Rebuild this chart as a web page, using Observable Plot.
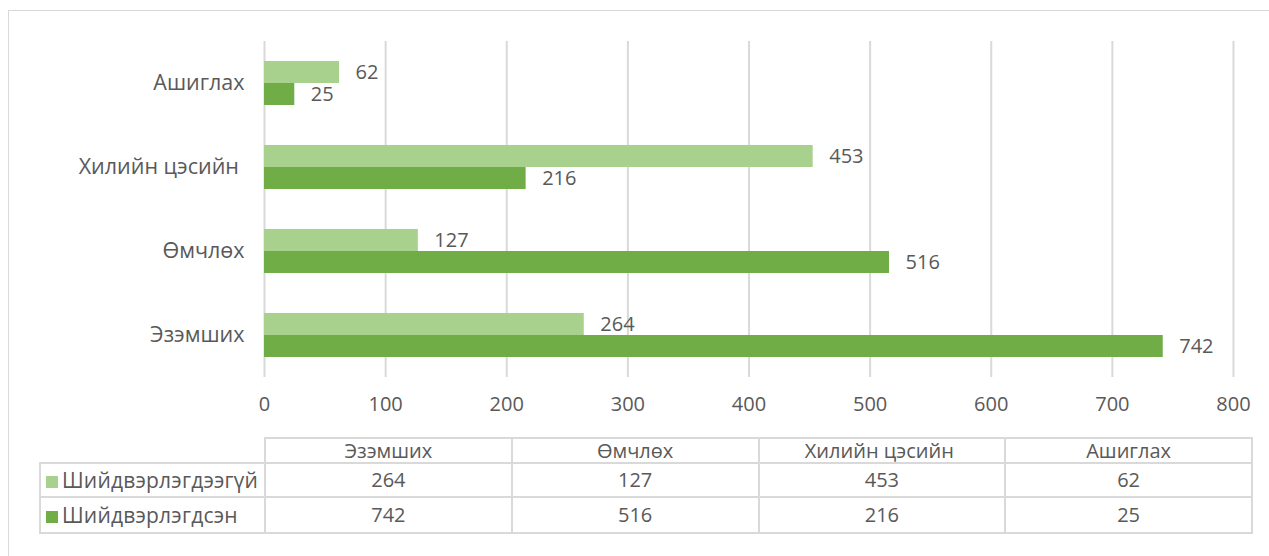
<!DOCTYPE html>
<html>
<head>
<meta charset="utf-8">
<script src="https://cdn.jsdelivr.net/npm/d3@7"></script>
<script src="https://cdn.jsdelivr.net/npm/@observablehq/plot@0.6"></script>
<style>
  html, body { margin: 0; padding: 0; background: #fff; }
  body { width: 1269px; height: 556px; position: relative; overflow: hidden; font-family: "Open Sans", sans-serif; color: #595959; }
  #frame { position: absolute; left: 8px; top: 10px; width: 1262px; height: 548px; border: 1px solid #d9d9d9; box-sizing: border-box; }
  #chart { position: absolute; left: 0; top: 0; }
  #chart svg text { white-space: pre; }
  #tbl { position: absolute; left: 39px; top: 437px; width: 1212px; table-layout: fixed; border-collapse: collapse; font-size: 20px; color: #595959; }
  #tbl td { border: 2px solid #d9d9d9; text-align: center; padding: 0; line-height: 1; white-space: pre; }
  #tbl td.empty { border: none; }
  #tbl td.leg { text-align: left; padding-left: 5px; white-space: nowrap; font-size: 21px; letter-spacing: 0.2px; }
  #tbl tr.hdr td { font-size: 20px; }
  .sw { display: inline-block; width: 12px; height: 12px; margin-right: 4px; vertical-align: 0px; }
</style>
</head>
<body>
<div id="frame"></div>
<div id="chart"></div>
<table id="tbl"></table>
<script>
// Categories, top to bottom in the chart
const categories = ["Ашиглах", "Хилийн цэсийн ", "Өмчлөх", "Эзэмших"];
// Series values per category (same order as categories)
const unresolved = [62, 453, 127, 264];   // Шийдвэрлэгдээгүй
const resolved = [25, 216, 516, 742];     // Шийдвэрлэгдсэн
const seriesNames = ["Шийдвэрлэгдээгүй", "Шийдвэрлэгдсэн"];
const seriesColors = ["#a9d18e", "#70ad47"];
const xTicks = [0, 100, 200, 300, 400, 500, 600, 700, 800];
// Table column order
const tableOrder = ["Эзэмших", "Өмчлөх", "Хилийн цэсийн ", "Ашиглах"];

const data = categories.map((c, i) => ({cat: c, u: unresolved[i], r: resolved[i]}));

const chart = Plot.plot({
  width: 1269,
  height: 420,
  marginLeft: 264,
  marginRight: 36,
  marginTop: 41,
  marginBottom: 43,
  style: {fontFamily: "Open Sans, sans-serif", fontSize: "20px", color: "#595959", background: "transparent"},
  x: {domain: [0, 800], ticks: xTicks, tickSize: 0, tickPadding: 19, label: null},
  y: {domain: categories, padding: 0, tickSize: 0, tickPadding: 20, label: null},
  marks: [
    Plot.ruleX(xTicks, {stroke: "#d9d9d9", strokeWidth: 2}),
    Plot.barX(data, {x: "u", y: "cat", fill: seriesColors[0], insetTop: 20, insetBottom: 42}),
    Plot.barX(data, {x: "r", y: "cat", fill: seriesColors[1], insetTop: 42, insetBottom: 20}),
    Plot.text(data, {x: "u", y: "cat", text: d => String(d.u), dy: -11, dx: 16, textAnchor: "start", fill: "#595959", fontSize: 20}),
    Plot.text(data, {x: "r", y: "cat", text: d => String(d.r), dy: 11, dx: 16, textAnchor: "start", fill: "#595959", fontSize: 20})
  ]
});
chart.querySelectorAll("g[aria-label='y-axis tick label'] text, g[aria-label='y-axis'] text").forEach(t => t.setAttribute("font-size", "21.5"));
document.getElementById("chart").appendChild(chart);

// Data table below the chart
const tbl = d3.select("#tbl");
const cg = tbl.append("colgroup");
cg.append("col").style("width", "225px");
tableOrder.forEach(() => cg.append("col").style("width", "246.75px"));
const header = tbl.append("tr").attr("class", "hdr").style("height", "25px");
header.append("td").attr("class", "empty");
tableOrder.forEach(c => header.append("td").text(c));
const rows = [unresolved, resolved];
const rowH = [34, 36];
rows.forEach((vals, ri) => {
  const tr = tbl.append("tr").style("height", rowH[ri] + "px");
  const leg = tr.append("td").attr("class", "leg");
  leg.append("span").attr("class", "sw").style("background", seriesColors[ri]);
  leg.append("span").text(seriesNames[ri]);
  tableOrder.forEach(c => {
    const idx = categories.indexOf(c);
    tr.append("td").text(String(vals[idx]));
  });
});
</script>
</body>
</html>
